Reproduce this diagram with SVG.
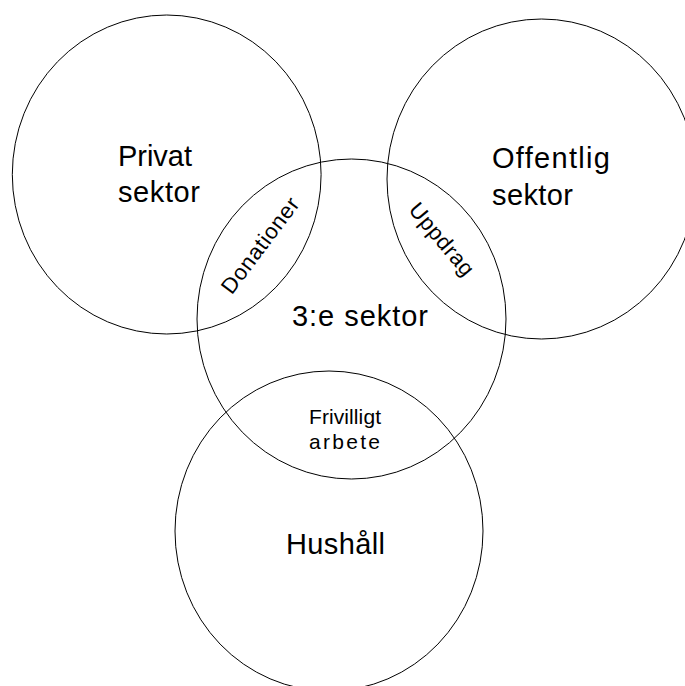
<svg xmlns="http://www.w3.org/2000/svg" width="685" height="686" viewBox="0 0 685 686">
<style>
.c{fill:none;stroke:#000;stroke-width:1}
.t{font-family:"Liberation Sans",Arial,sans-serif;fill:#000}
.l{font-size:29px}
.s{font-size:21px}
.r{font-size:22px}
</style>
<rect width="685" height="686" fill="#fff"/>
<g id="privat">
<ellipse class="c" cx="166.7" cy="174.5" rx="154.4" ry="159.5"/>
<text class="t l" x="118" y="166" textLength="74" lengthAdjust="spacing">Privat</text>
<text class="t l" x="118" y="202" textLength="82" lengthAdjust="spacing">sektor</text>
</g>
<g id="offentlig">
<ellipse class="c" cx="541.5" cy="179" rx="154.5" ry="160"/>
<text class="t l" x="492" y="168" textLength="118" lengthAdjust="spacing">Offentlig</text>
<text class="t l" x="492" y="205" textLength="81" lengthAdjust="spacing">sektor</text>
</g>
<g id="tredje">
<ellipse class="c" cx="351.5" cy="319" rx="154.5" ry="160"/>
<text class="t l" x="292" y="326" textLength="136" lengthAdjust="spacing">3:e sektor</text>
</g>
<g id="hushall">
<ellipse class="c" cx="329" cy="531" rx="154" ry="160"/>
<text class="t l" x="286" y="554" textLength="99" lengthAdjust="spacing">Hushåll</text>
</g>
<g id="donationer">
<text class="t r" text-anchor="middle" transform="translate(266 250) rotate(-53)" textLength="114" lengthAdjust="spacing">Donationer</text>
</g>
<g id="uppdrag">
<text class="t r" text-anchor="middle" transform="translate(436 244) rotate(50)" textLength="88" lengthAdjust="spacing">Uppdrag</text>
</g>
<g id="frivilligt">
<text class="t s" x="309" y="423.5" textLength="72" lengthAdjust="spacing">Frivilligt</text>
<text class="t s" x="309" y="449" textLength="71" lengthAdjust="spacing">arbete</text>
</g>
</svg>
